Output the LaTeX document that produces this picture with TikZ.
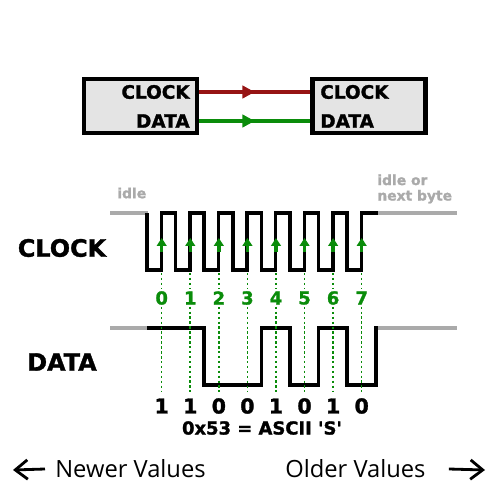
\documentclass[tikz,border=0pt]{standalone}
\usepackage{fontspec}
\setmainfont{DejaVu Sans}
\newfontfamily\heavyfont{DejaVu Sans Bold}[FakeBold=1.4]
\newfontfamily\valfont{Open Sans}
\usetikzlibrary{arrows.meta,decorations.markings}
\definecolor{wirered}{RGB}{150,20,20}
\definecolor{wiregreen}{RGB}{10,140,10}
\definecolor{boxgray}{RGB}{228,228,228}
\definecolor{idlegray}{RGB}{170,170,170}
\tikzset{
	chip/.style={draw=black,line width=2.5pt,fill=boxgray,minimum width=2.26cm,minimum height=1.08cm},
	pinlabel/.style={font=\heavyfont\fontsize{10.5}{12}\selectfont,inner sep=0pt},
	siglabel/.style={font=\heavyfont\fontsize{13.6}{15}\selectfont,inner sep=0pt},
	idlelabel/.style={font=\heavyfont\fontsize{7.9}{8.8}\selectfont,text=idlegray,inner sep=0pt,align=left},
	bitnum/.style={font=\heavyfont\fontsize{10.2}{12}\selectfont,text=wiregreen,inner sep=1pt},
	bitval/.style={font=\heavyfont\fontsize{11.7}{13}\selectfont,inner sep=0pt},
	wire/.style={line width=1.8pt,postaction={decorate},decoration={markings,mark=at position 0.5 with {\arrow{Triangle[length=7pt,width=7pt]}}}},
	wave/.style={line width=2pt,line join=miter},
	idle/.style={line width=2pt,idlegray},
	tick/.style={wiregreen,dash pattern=on 1.4pt off 1.4pt,line width=0.9pt},
	edge/.style={wiregreen,line width=2pt,-{Triangle[length=4.5pt,width=5.5pt]}},
	valtext/.style={font=\valfont\fontsize{13.5}{16}\selectfont,inner sep=0pt},
	valarrow/.style={line width=1.6pt,-{Straight Barb[length=7pt,width=11pt]}}
}
\begin{document}
\begin{tikzpicture}[x=0.02cm,y=-0.02cm]
	\useasboundingbox (0,0) rectangle (500,500);
	% the two chips
	\node[chip] (lbox) at (140.5,106) {};
	\node[chip] (rbox) at (369,106) {};
	\node[pinlabel,anchor=east] (lclk) at (190,92) {CLOCK};
	\node[pinlabel,anchor=east] (ldat) at (190,121) {DATA};
	\node[pinlabel,anchor=west] (rclk) at (320,92) {CLOCK};
	\node[pinlabel,anchor=west] (rdat) at (320,121) {DATA};
	\draw[wire,wirered] (lbox.east |- lclk) -- (rbox.west |- rclk);
	\draw[wire,wiregreen] (lbox.east |- ldat) -- (rbox.west |- rdat);
	% signal names
	\node[siglabel] (clk) at (62,248) {CLOCK};
	\node[siglabel] (dat) at (62,362) {DATA};
	\node[idlelabel,anchor=west] (idl) at (117,193) {idle};
	\node[idlelabel,anchor=west] (nxt) at (377,189) {idle or\\next byte};
	% idle levels
	\draw[idle] (110,213) -- (148,213);
	\draw[idle] (376,213) -- (457,213);
	\draw[idle] (110,328) -- (148,328);
	\draw[idle] (376,328) -- (457,328);
	% clock
	\draw[wave] (147,213) \foreach \i in {0,...,7} { -- ++(0,57) -- ++(14.3,0) -- ++(0,-57) -- ++(14.3,0) } -- ++(2,0);
	% data 11001010
	\draw[wave] (147,328) -- (204.2,328) -- (204.2,385) -- (261.4,385) -- (261.4,328) -- (290,328) -- (290,385)
		-- (318.6,385) -- (318.6,328) -- (347.2,328) -- (347.2,385) -- (375.8,385) -- (375.8,328) -- (378,328);
	% sampling points
	\foreach \b [count=\i from 0] in {1,1,0,0,1,0,1,0} {
		\node[bitnum] (n\i) at ({161.7+28.57*\i},298) {\i};
		\node[bitval] (b\i) at ({161.7+28.57*\i},406) {\b};
		\draw[tick] ({161.7+28.57*\i},273) -- (n\i.north);
		\draw[tick] (n\i.south) -- ({161.7+28.57*\i},392);
		\draw[edge] ({161.7+28.57*\i},252) -- ({161.7+28.57*\i},238);
	}
	\node[font=\heavyfont\fontsize{10.2}{12}\selectfont,inner sep=0pt] (ascii) at (262,428) {0x53 = ASCII \textquotesingle S\textquotesingle};
	% direction of values
	\node[valtext,anchor=west] (newer) at (55,469) {Newer Values};
	\node[valtext,anchor=west] (older) at (285,469) {Older Values};
	\coordinate (la) at (13,470);
	\coordinate (ra) at (485,470);
	\draw[valarrow] (newer.west) ++(-10,0) -- (la);
	\draw[valarrow] (older.east) ++(23,0) -- (ra);
\end{tikzpicture}
\end{document}
